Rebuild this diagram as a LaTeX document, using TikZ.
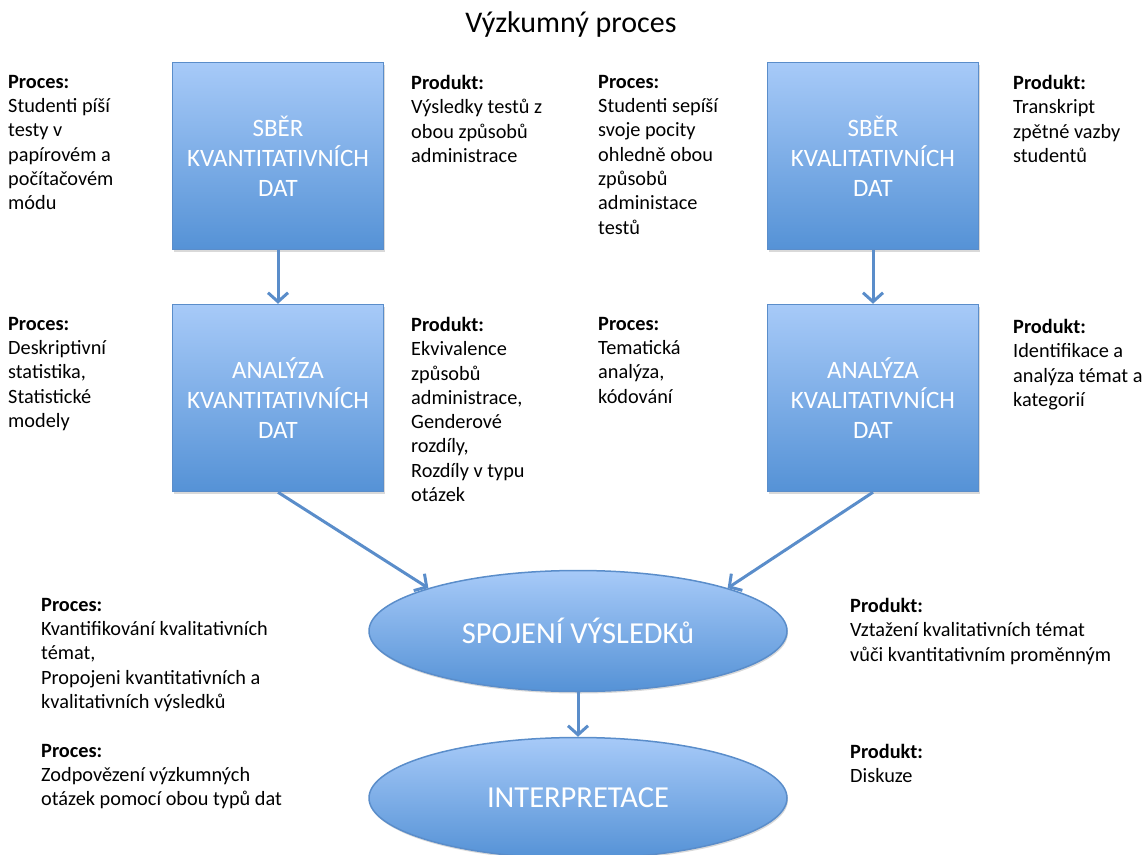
\documentclass[tikz,border=0pt]{standalone}
\usepackage{fontspec}
\setmainfont{Carlito}
\usetikzlibrary{shapes.geometric}
\usetikzlibrary{arrows.meta}
\usetikzlibrary{shadows}

\definecolor{boxtop}{HTML}{A7CAF8}
\definecolor{boxbot}{HTML}{5592D6}
\definecolor{boxline}{HTML}{5A8DCA}

\tikzset{
  stage/.style={draw=boxline, line width=1.5pt, top color=boxtop, bottom color=boxbot,
    text=white, align=center, inner sep=0pt,
    drop shadow={shadow xshift=1pt, shadow yshift=-2pt, opacity=0.3}},
  datbox/.style={stage, rectangle, minimum width=211pt, minimum height=187pt,
    font={\fontsize{25}{30}\selectfont}},
  merge/.style={stage, ellipse, minimum width=418pt, minimum height=121pt,
    font={\fontsize{30.5}{34}\selectfont}},
  note/.style={anchor=north west, inner sep=0pt, align=left,
    font={\fontsize{20.3}{24.3}\selectfont}},
  flow/.style={draw=boxline, line width=3pt, -{Straight Barb[length=9pt,width=20pt]}}
}

\begin{document}
\begin{tikzpicture}[x=1pt, y=-1pt]

  \useasboundingbox (0,0) rectangle (1143,854);

  \node[font={\fontsize{30}{34}\selectfont}] (title) at (571,25) {Výzkumný proces};

  \node[datbox] (qnsber) at (278,156) {SBĚR\\KVANTITATIVNÍCH\\DAT};
  \node[datbox] (qnanal) at (278,398) {ANALÝZA\\KVANTITATIVNÍCH\\DAT};
  \node[datbox] (qlsber) at (873,156) {SBĚR\\KVALITATIVNÍCH\\DAT};
  \node[datbox] (qlanal) at (873,398) {ANALÝZA\\KVALITATIVNÍCH\\DAT};

  \node[merge] (join) at (578,631) {SPOJENÍ VÝSLEDKů};
  \node[merge] (interp) at (578,798) {INTERPRETACE};

  \draw[flow] (qnsber) -- (qnanal);
  \draw[flow] (qlsber) -- (qlanal);
  \draw[flow] (qnanal.south) -- (join.164);
  \draw[flow] (qlanal.south) -- (join.16);
  \draw[flow] (join) -- (interp);

  % popisky
  \node[note] (qnsberproc) at (8,75) {\textbf{Proces:}\\Studenti píší\\testy v\\papírovém a\\počítačovém\\módu};
  \node[note] (qnsberprod) at (411,75) {\textbf{Produkt:}\\Výsledky testů z\\obou způsobů\\administrace};
  \node[note] (qlsberproc) at (598,75) {\textbf{Proces:}\\Studenti sepíší\\svoje pocity\\ohledně obou\\způsobů\\administace\\testů};
  \node[note] (qlsberprod) at (1013,75) {\textbf{Produkt:}\\Transkript\\zpětné vazby\\studentů};

  \node[note] (qnanalproc) at (8,317) {\textbf{Proces:}\\Deskriptivní\\statistika,\\Statistické\\modely};
  \node[note] (qnanalprod) at (411,317) {\textbf{Produkt:}\\Ekvivalence\\způsobů\\administrace,\\Genderové\\rozdíly,\\Rozdíly v typu\\otázek};
  \node[note] (qlanalproc) at (598,317) {\textbf{Proces:}\\Tematická\\analýza,\\kódování};
  \node[note] (qlanalprod) at (1013,319) {\textbf{Produkt:}\\Identifikace a\\analýza témat a\\kategorií};

  \node[note] (joinproc) at (41,598) {\textbf{Proces:}\\Kvantifikování kvalitativních\\témat,\\Propojeni kvantitativních a\\kvalitativních výsledků};
  \node[note] (joinprod) at (850,598) {\textbf{Produkt:}\\Vztažení kvalitativních témat\\vůči kvantitativním proměnným};
  \node[note] (interpproc) at (41,744) {\textbf{Proces:}\\Zodpovězení výzkumných\\otázek pomocí obou typů dat};
  \node[note] (interpprod) at (850,744) {\textbf{Produkt:}\\Diskuze};

\end{tikzpicture}
\end{document}
